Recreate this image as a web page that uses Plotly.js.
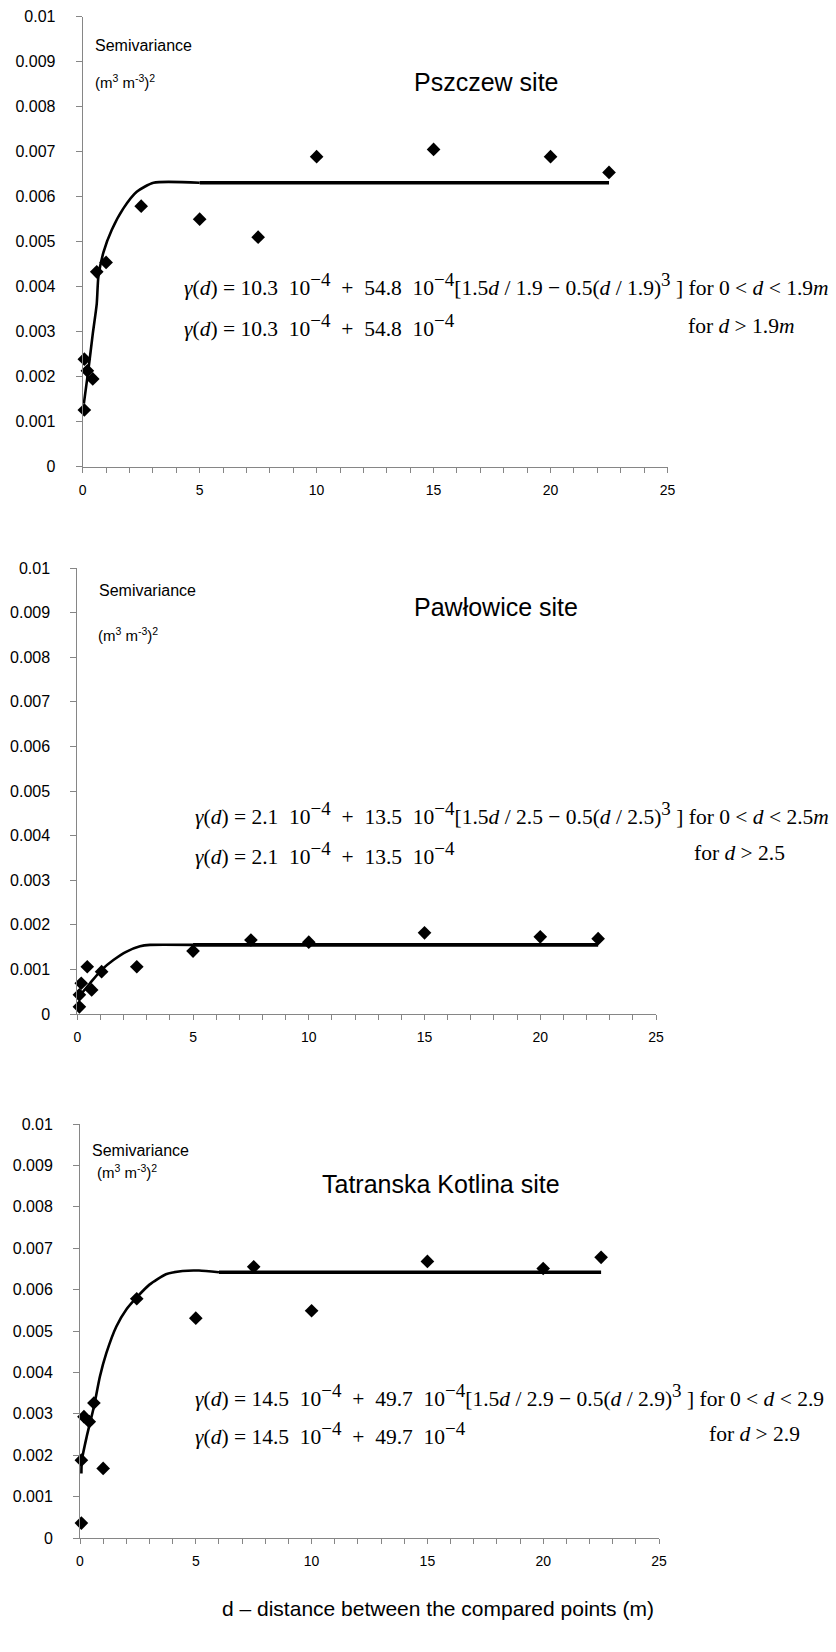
<!DOCTYPE html>
<html>
<head>
<meta charset="utf-8">
<script src="https://cdn.plot.ly/plotly-3.0.1.min.js"></script>
<style>
  html, body { margin: 0; padding: 0; background: #ffffff; }
  #chart { width: 836px; height: 1652px; }
</style>
</head>
<body>
<div id="chart"></div>
<script>
// ---------- Data ----------
// Pszczew site
const pszDist = [0.07, 0.07, 0.2, 0.43, 0.6, 1.0, 2.5, 5, 7.5, 10, 15, 20, 22.5];
const pszSemi = [0.00126, 0.00239, 0.00213, 0.00195, 0.00433, 0.00454, 0.00579, 0.0055, 0.0051, 0.00689, 0.00705, 0.00689, 0.00654];
const pszModelX = [0.05, 0.24, 0.43, 0.6, 0.67, 0.89, 1.24, 1.74, 2.31, 3.03, 5];
const pszModelY = [0.0014, 0.00214, 0.00295, 0.00362, 0.00422, 0.00477, 0.00526, 0.00574, 0.00611, 0.00631, 0.00631];
const pszSillX = [5, 22.5];
const pszSillY = [0.00631, 0.00631];

// Pawłowice site
const pawDist = [0.09, 0.09, 0.17, 0.43, 0.62, 1.05, 2.57, 5, 7.5, 10, 15, 20, 22.5];
const pawSemi = [0.00016, 0.00043, 0.00069, 0.00106, 0.00054, 0.00095, 0.00106, 0.00141, 0.00166, 0.00161, 0.00182, 0.00173, 0.00169];
const pawModelX = [0.09, 0.55, 1.05, 1.56, 2.13, 2.71, 3.14, 5];
const pawModelY = [0.0004, 0.00069, 0.00099, 0.00121, 0.0014, 0.00152, 0.00155, 0.00155];
const pawSillX = [5, 22.5];
const pawSillY = [0.00155, 0.00155];

// Tatranska Kotlina site
const tatDist = [0.06, 0.06, 0.17, 0.4, 0.6, 1.0, 2.45, 5, 7.5, 10, 15, 20, 22.5];
const tatSemi = [0.00036, 0.00188, 0.00293, 0.00281, 0.00326, 0.00168, 0.00578, 0.00531, 0.00655, 0.00549, 0.00668, 0.00651, 0.00678];
const tatModelX = [0.06, 0.08, 0.29, 0.6, 0.86, 1.14, 1.57, 2.0, 2.43, 3.0, 3.71, 4.43, 5.14, 6.0];
const tatModelY = [0.00156, 0.00188, 0.00245, 0.00317, 0.0039, 0.00447, 0.00511, 0.00552, 0.0058, 0.00612, 0.00637, 0.00645, 0.00646, 0.00642];
const tatSillX = [6.0, 22.5];
const tatSillY = [0.00642, 0.00642];

const siteTitles = ["Pszczew site", "Pawłowice site", "Tatranska Kotlina site"];
// model parameters shown in the equations
const eqNugget = ["10.3", "2.1", "14.5"];
const eqSill = ["54.8", "13.5", "49.7"];
const eqRange = ["1.9", "2.5", "2.9"];
const eqRangeUnit1 = ["<i>m</i>", "<i>m</i>", ""];
const eqRangeUnit2 = ["<i>m</i>", "", ""];
const yLabel1 = "Semivariance";
const yLabel2 = "(m<sup>3</sup> m<sup>-3</sup>)<sup>2</sup>";
const xAxisTitle = "d – distance between the compared points (m)";

// ---------- Layout geometry (pixels in the 836 x 1652 page) ----------
const W = 836, H = 1652;
const panels = [
  {x0: 82.7, x1: 667.5, yTop: 16.7, yBot: 466.7},
  {x0: 77.3, x1: 656.0, yTop: 568,  yBot: 1014},
  {x0: 80.0, x1: 659.0, yTop: 1124, yBot: 1538}
];
// text positions in each panel's data coordinates
const textPos = [
  {semi: [0.43, 0.00936], unit: [0.43, 0.00856], title: [14.06, 0.00856], eq1: [4.23, 0.00404], eq2: [4.23, 0.00313], cond: [25.79, 0.00313]},
  {semi: [0.86, 0.00949], unit: [0.79, 0.0085],  title: [14.45, 0.00912], eq1: [4.98, 0.0045],  eq2: [4.98, 0.0036],  cond: [26.55, 0.0036]},
  {semi: [0.43, 0.00935], unit: [0.65, 0.00885], title: [10.37, 0.00856], eq1: [4.87, 0.00343], eq2: [4.87, 0.00252], cond: [27.09, 0.00252]}
];

const sans = "Liberation Sans, Arial, sans-serif";
const serif = "Liberation Serif, Times New Roman, serif";
const axisGray = "#868686";
const NB = "\u00A0";
const sup = s => "<sup><span style=\"font-size:19px\">" + s + "</span></sup>";

function eqFirst(i) {
  return "<i>γ</i>(<i>d</i>)" + NB + "=" + NB + eqNugget[i] + NB + NB + "10" + sup("−4") +
    NB + NB + "+" + NB + NB + eqSill[i] + NB + NB + "10" + sup("−4") +
    "[1.5<i>d</i>" + NB + "/" + NB + eqRange[i] + NB + "−" + NB + "0.5(<i>d</i>" + NB + "/" + NB + eqRange[i] + ")" + sup("3") +
    NB + "]" + NB + "for" + NB + "0" + NB + "&lt;" + NB + "<i>d</i>" + NB + "&lt;" + NB + eqRange[i] + eqRangeUnit1[i];
}
function eqSecond(i) {
  return "<i>γ</i>(<i>d</i>)" + NB + "=" + NB + eqNugget[i] + NB + NB + "10" + sup("−4") +
    NB + NB + "+" + NB + NB + eqSill[i] + NB + NB + "10" + sup("−4");
}
function eqCond(i) {
  return "for" + NB + "<i>d</i>" + NB + "&gt;" + NB + eqRange[i] + eqRangeUnit2[i];
}

const pointSets = [[pszDist, pszSemi], [pawDist, pawSemi], [tatDist, tatSemi]];
const modelSets = [[pszModelX, pszModelY], [pawModelX, pawModelY], [tatModelX, tatModelY]];
const sillSets = [[pszSillX, pszSillY], [pawSillX, pawSillY], [tatSillX, tatSillY]];

const traces = [];
const layout = {
  width: W, height: H,
  margin: {l: 0, r: 0, t: 0, b: 0},
  paper_bgcolor: "#ffffff",
  plot_bgcolor: "rgba(0,0,0,0)",
  showlegend: false,
  font: {family: sans, color: "#000000"},
  annotations: []
};

panels.forEach((p, i) => {
  const n = i === 0 ? "" : String(i + 1);
  const xa = "x" + n, ya = "y" + n;
  traces.push({
    x: modelSets[i][0], y: modelSets[i][1], xaxis: xa, yaxis: ya,
    mode: "lines", line: {color: "#000000", width: 2.6, shape: "spline", smoothing: 0.6},
    cliponaxis: false, hoverinfo: "skip"
  });
  traces.push({
    x: sillSets[i][0], y: sillSets[i][1], xaxis: xa, yaxis: ya,
    mode: "lines", line: {color: "#000000", width: 3.6},
    cliponaxis: false, hoverinfo: "skip"
  });
  traces.push({
    x: pointSets[i][0], y: pointSets[i][1], xaxis: xa, yaxis: ya,
    mode: "markers", marker: {symbol: "diamond", size: 10.5, color: "#000000"},
    cliponaxis: false
  });

  layout["xaxis" + n] = {
    domain: [p.x0 / W, p.x1 / W],
    anchor: ya,
    range: [0, 25], autorange: false,
    tickmode: "linear", tick0: 0, dtick: 5,
    ticks: "outside", ticklen: 5, tickwidth: 1, tickcolor: axisGray,
    minor: {dtick: 1, tick0: 0, ticks: "outside", ticklen: 5, tickwidth: 1, tickcolor: axisGray},
    showline: true, linecolor: axisGray, linewidth: 1,
    showgrid: false, zeroline: false,
    tickfont: {family: sans, size: 14, color: "#000000"},
    ticklabelstandoff: 5,
    fixedrange: true
  };
  layout["yaxis" + n] = {
    domain: [1 - p.yBot / H, 1 - p.yTop / H],
    anchor: xa,
    range: [0, 0.01], autorange: false,
    tickmode: "linear", tick0: 0, dtick: 0.001,
    ticks: "outside", ticklen: 6, tickwidth: 1, tickcolor: axisGray,
    showline: true, linecolor: axisGray, linewidth: 1,
    showgrid: false, zeroline: false,
    tickfont: {family: sans, size: 16, color: "#000000"},
    ticklabelstandoff: 17,
    fixedrange: true
  };

  // annotations placed in paper coordinates, converted from the panel's data coordinates
  const toPaper = pos => [
    (p.x0 + pos[0] / 25 * (p.x1 - p.x0)) / W,
    1 - (p.yBot - pos[1] / 0.01 * (p.yBot - p.yTop)) / H
  ];
  const ann = (txt, pos, font) => {
    const q = toPaper(pos);
    return {text: txt, xref: "paper", yref: "paper", x: q[0], y: q[1],
      xanchor: "left", yanchor: "middle", showarrow: false, font: font};
  };
  const t = textPos[i];
  layout.annotations.push(ann(yLabel1, t.semi, {family: sans, size: 16, color: "#000000"}));
  layout.annotations.push(ann(yLabel2, t.unit, {family: sans, size: 15, color: "#000000"}));
  layout.annotations.push(ann(siteTitles[i], t.title, {family: sans, size: 25, color: "#000000"}));
  layout.annotations.push(ann(eqFirst(i), t.eq1, {family: serif, size: 21.5, color: "#000000"}));
  layout.annotations.push(ann(eqSecond(i), t.eq2, {family: serif, size: 21.5, color: "#000000"}));
  layout.annotations.push(ann(eqCond(i), t.cond, {family: serif, size: 21.5, color: "#000000"}));
});

// x axis title for the whole figure (under the bottom panel)
layout.annotations.push({
  text: xAxisTitle, xref: "paper", yref: "paper",
  x: 437.5 / W, y: 1 - 1608 / H, xanchor: "center", yanchor: "middle",
  showarrow: false, font: {family: sans, size: 21, color: "#000000"}
});

Plotly.newPlot("chart", traces, layout, {displayModeBar: false, staticPlot: true});
</script>
</body>
</html>
